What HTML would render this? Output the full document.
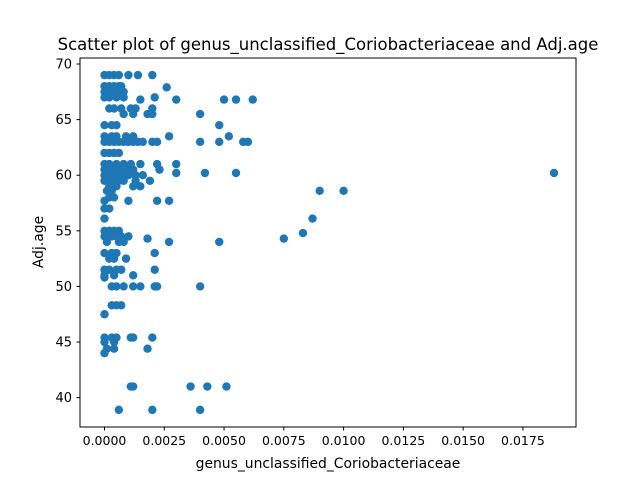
<!DOCTYPE html>
<html><head><meta charset="utf-8"><style>
body{margin:0;background:#fff;}
svg{display:block;font-family:"DejaVu Sans","Liberation Sans",sans-serif;}
</style></head><body>
<svg id="chart" width="640" height="480">
<text x="328" y="50" text-anchor="middle" font-size="16.5">Scatter plot of genus_unclassified_Coriobacteriaceae and Adj.age</text>
<g id="plot"></g>
<rect x="80" y="58" width="496" height="369" fill="none" stroke="#000" stroke-width="1"/>
<g id="xt"></g>
<g id="yt"></g>
<text x="328" y="468" text-anchor="middle" font-size="13.9">genus_unclassified_Coriobacteriaceae</text>
<text transform="translate(43,242) rotate(-90)" text-anchor="middle" font-size="13.9">Adj.age</text>
</svg>
<script>
const xTicks=[0,0.0025,0.005,0.0075,0.01,0.0125,0.015,0.0175];
const xTickLabels=["0.0000","0.0025","0.0050","0.0075","0.0100","0.0125","0.0150","0.0175"];
const yTicks=[40,45,50,55,60,65,70];
const rows=[[69,[0,2,4,6,10,14,20]],[68,[0,2,4,6,7]],[67.9,[26]],[67.5,[0,2,4,6,8]],[67,[0,2,5,8,21]],[66.8,[15,30,50,55,62]],[66,[2,4,7,11,13,20]],[65.5,[8,12,18,20,40]],[64.5,[0,3,5,48]],[63.5,[0,3,5,9,12,27,52]],[63,[0,2,4,6,8,10,12,14,16,20,22,40,48,58,60]],[62,[0,2,4,6]],[61,[0,2,5,8,11,15,22,30]],[60.5,[0,3,6,9,12,23]],[60.2,[30,42,55,188]],[60,[0,2,4,6,8,10,13,16]],[59.5,[0,3,6,8,13,19]],[59,[2,5,12,15]],[58.6,[1,3,90,100]],[58,[2,4]],[57.7,[0,10,22,27]],[57,[0,2]],[56.1,[0,87]],[55,[0,2,4,6]],[54.8,[83]],[54.5,[0,3,5,7,10]],[54.3,[18,75]],[54,[1,6,8,27,48]],[53,[0,3,5,21]],[52.5,[2,4,9]],[51.5,[0,2,5,7,21]],[51,[0,4,12]],[50.8,[0]],[50,[3,5,8,12,15,21,22,40]],[48.3,[3,5,7]],[47.5,[0]],[45.4,[0,3,5,11,12,20]],[45,[0,4]],[44.4,[1,4,18]],[44,[0]],[41,[11,12,36,43,51]],[38.9,[6,20,40]]];
const xVals=[],yVals=[];
rows.forEach(r=>r[1].forEach(v=>{xVals.push(v/10000);yVals.push(r[0]);}));
const X0=80,X1=576,Y0=427,Y1=58,xmin=-0.001025,xmax=0.01972,ymin=37.36,ymax=70.54;
const sx=v=>X0+(v-xmin)/(xmax-xmin)*(X1-X0);
const sy=v=>Y0-(v-ymin)/(ymax-ymin)*(Y0-Y1);
const NS="http://www.w3.org/2000/svg";
const plot=document.getElementById('plot');
for(let i=0;i<xVals.length;i++){
 const c=document.createElementNS(NS,'circle');
 c.setAttribute('cx',sx(xVals[i]));c.setAttribute('cy',sy(yVals[i]));c.setAttribute('r',4.2);c.setAttribute('fill','#1f77b4');
 
 
 plot.appendChild(c);
}
const xt=document.getElementById('xt');
xTicks.forEach((t,i)=>{
 const x=sx(t);
 const l=document.createElementNS(NS,'line');
 l.setAttribute('x1',x);l.setAttribute('x2',x);l.setAttribute('y1',427);l.setAttribute('y2',430.5);l.setAttribute('stroke','#000');
 
 
 xt.appendChild(l);
 const tx=document.createElementNS(NS,'text');
 tx.setAttribute('x',x);tx.setAttribute('y',445);tx.setAttribute('text-anchor','middle');tx.setAttribute('font-size','12.5');
 tx.textContent=xTickLabels[i];
 
 
 xt.appendChild(tx);
});
const yt=document.getElementById('yt');
yTicks.forEach(t=>{
 const y=sy(t);
 const l=document.createElementNS(NS,'line');
 l.setAttribute('x1',76.5);l.setAttribute('x2',80);l.setAttribute('y1',y);l.setAttribute('y2',y);l.setAttribute('stroke','#000');
 
 
 yt.appendChild(l);
 const tx=document.createElementNS(NS,'text');
 tx.setAttribute('x',72);tx.setAttribute('y',y+4.5);tx.setAttribute('text-anchor','end');tx.setAttribute('font-size','13');
 tx.textContent=t;
 
 
 yt.appendChild(tx);
});
</script>
</body></html>
